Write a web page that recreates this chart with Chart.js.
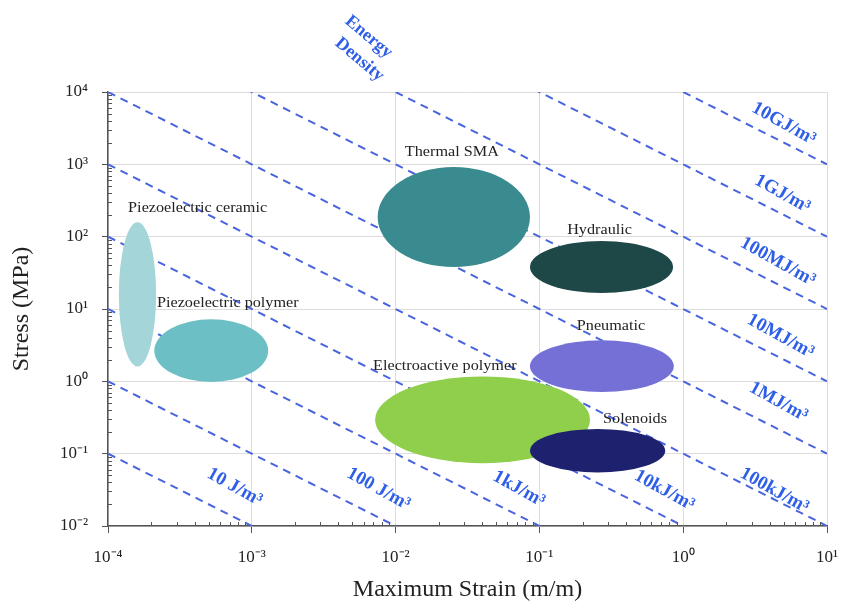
<!DOCTYPE html>
<html>
<head>
<meta charset="utf-8">
<script src="https://cdn.jsdelivr.net/npm/chart.js@4.4.0/dist/chart.umd.min.js"></script>
<style>
  html, body { margin: 0; padding: 0; background: #fff; }
  #wrap { width: 842px; height: 604px; }
</style>
</head>
<body>
<div id="wrap"><canvas id="chart"></canvas></div>
<script>
// actuator families: strain range (m/m) and stress range (MPa)
const actuators = ['Piezoelectric ceramic', 'Piezoelectric polymer', 'Thermal SMA', 'Hydraulic', 'Electroactive polymer', 'Pneumatic', 'Solenoids'];
const strainMin = [1.19e-4, 2.1e-4, 7.5e-3, 0.086, 7.2e-3, 0.086, 0.086];
const strainMax = [2.16e-4, 1.3e-3, 0.086, 0.85, 0.225, 0.86, 0.75];
const stressMin = [1.6, 0.98, 38, 16.6, 0.074, 0.71, 0.055];
const stressMax = [158, 7.2, 918, 87, 1.17, 3.7, 0.22];
const fillColors = ['#a3d5d9', '#6cc0c5', '#3a8b8f', '#1e4747', '#90cf4c', '#7470d6', '#1e226e'];
// where the name of each family is written (left edge, middle)
const labelStrain = [1.38e-4, 2.19e-4, 0.0116, 0.156, 6.97e-3, 0.182, 0.277];
const labelStress = [249, 12.1, 1480, 123, 1.62, 5.8, 0.30];

// energy density lines: stress x strain (MPa * m/m = MJ/m3)
const energyValues = [1e-5, 1e-4, 1e-3, 1e-2, 1e-1, 1, 10, 100, 1e3, 1e4];
const energyLabels = ['10 J/m³', '100 J/m³', '1kJ/m³', '10kJ/m³', '100kJ/m³', '1MJ/m³', '10MJ/m³', '100MJ/m³', '1GJ/m³', '10GJ/m³'];
const energyLabelStrain = [7.6e-4, 7.6e-3, 0.072, 0.74, 4.3, 4.6, 4.75, 4.55, 4.9, 5.0];
const energyLabelStress = [0.0345, 0.0325, 0.0325, 0.031, 0.031, 0.52, 4.2, 45, 390, 3650];

const xTicks = [1e-4, 1e-3, 1e-2, 1e-1, 1, 10];
const yTicks = [1e-2, 1e-1, 1, 10, 100, 1e3, 1e4];

const blueLine = '#4a64dc';
const blueText = '#2f5fe6';

const sup = { '-': '⁻', '0': '⁰', '1': '¹', '2': '²', '3': '³', '4': '⁴' };
function isMajor(v) {
  const lg = Math.log10(v);
  return Math.abs(lg - Math.round(lg)) < 1e-6;
}
function powLabel(v) {
  if (!isMajor(v)) return '';
  const e = String(Math.round(Math.log10(v)));
  return '10' + e.split('').map(c => sup[c]).join('');
}
function isMinor(v) {
  const m = v / Math.pow(10, Math.floor(Math.log10(v) + 1e-9));
  return !isMajor(v) && Math.abs(m - Math.round(m)) < 1e-6;
}

const datasets = energyValues.map(e => ({
  type: 'line',
  data: [{ x: 1e-4, y: e / 1e-4 }, { x: 10, y: e / 10 }],
  borderColor: blueLine,
  borderWidth: 2,
  borderDash: [8, 6],
  pointRadius: 0,
  fill: false
}));

// minor ticks drawn inside the plot
const minorTicks = {
  id: 'minorTicks',
  afterDraw(chart) {
    const { ctx, scales: { x, y }, chartArea } = chart;
    ctx.save();
    ctx.strokeStyle = '#555';
    ctx.lineWidth = 1;
    ctx.beginPath();
    x.ticks.forEach(t => {
      if (!isMinor(t.value)) return;
      const px = Math.round(x.getPixelForValue(t.value)) + 0.5;
      ctx.moveTo(px, chartArea.bottom);
      ctx.lineTo(px, chartArea.bottom - 4);
    });
    y.ticks.forEach(t => {
      if (!isMinor(t.value)) return;
      const py = Math.round(y.getPixelForValue(t.value)) + 0.5;
      ctx.moveTo(chartArea.left, py);
      ctx.lineTo(chartArea.left + 4, py);
    });
    ctx.stroke();
    ctx.restore();
  }
};

// actuator regions, their names and the energy density labels
const regions = {
  id: 'regions',
  afterDatasetsDraw(chart) {
    const { ctx, scales: { x, y } } = chart;
    ctx.save();
    actuators.forEach((name, i) => {
      const x0 = x.getPixelForValue(strainMin[i]);
      const x1 = x.getPixelForValue(strainMax[i]);
      const y0 = y.getPixelForValue(stressMax[i]);
      const y1 = y.getPixelForValue(stressMin[i]);
      ctx.beginPath();
      ctx.ellipse((x0 + x1) / 2, (y0 + y1) / 2, (x1 - x0) / 2, (y1 - y0) / 2, 0, 0, Math.PI * 2);
      ctx.fillStyle = fillColors[i];
      ctx.fill();
    });

    ctx.fillStyle = '#222';
    ctx.font = '15px "Liberation Serif"';
    ctx.textAlign = 'left';
    ctx.textBaseline = 'middle';
    actuators.forEach((name, i) => {
      ctx.save();
      ctx.translate(x.getPixelForValue(labelStrain[i]), y.getPixelForValue(labelStress[i]));
      ctx.scale(1.08, 1);
      ctx.fillText(name, 0, 0);
      ctx.restore();
    });

    const angle = 29 * Math.PI / 180;
    ctx.fillStyle = blueText;
    ctx.font = 'bold 19px "Liberation Serif"';
    ctx.textAlign = 'center';
    energyLabels.forEach((txt, i) => {
      ctx.save();
      ctx.translate(x.getPixelForValue(energyLabelStrain[i]), y.getPixelForValue(energyLabelStress[i]));
      ctx.rotate(angle);
      ctx.fillText(txt, 0, 0);
      ctx.restore();
    });

    ctx.font = 'bold 18px "Liberation Serif"';
    [['Energy', 6.5e-3, 5.77e4], ['Density', 5.6e-3, 2.8e4]].forEach(([txt, sx, sy]) => {
      ctx.save();
      ctx.translate(x.getPixelForValue(sx), y.getPixelForValue(sy));
      ctx.rotate(40 * Math.PI / 180);
      ctx.fillText(txt, 0, 0);
      ctx.restore();
    });
    ctx.restore();
  }
};

const gridColor = c => (c.tick && isMajor(c.tick.value) ? '#dcdcdc' : 'rgba(0,0,0,0)');
const tickColor = c => (c.tick && isMajor(c.tick.value) ? '#555' : 'rgba(0,0,0,0)');

new Chart(document.getElementById('chart'), {
  type: 'line',
  data: { datasets: datasets },
  options: {
    responsive: true,
    maintainAspectRatio: false,
    animation: false,
    layout: { padding: { top: 92, right: 15, left: 0, bottom: 0 } },
    plugins: { legend: { display: false }, tooltip: { enabled: false } },
    scales: {
      x: {
        type: 'logarithmic',
        min: xTicks[0],
        max: xTicks[xTicks.length - 1],
        afterFit: s => { s.height = 78; s.paddingLeft = 0; s.paddingRight = 0; },
        border: { color: '#555', width: 1.5 },
        grid: { color: gridColor, tickColor: tickColor, tickLength: 7, lineWidth: 1 },
        ticks: {
          autoSkip: false, maxRotation: 0, padding: 14,
          color: '#222', font: { family: 'Liberation Serif', size: 17 },
          callback: v => powLabel(v)
        },
        title: {
          display: true, text: 'Maximum Strain (m/m)', color: '#222',
          font: { family: 'Liberation Serif', size: 24 }, padding: { top: 0, bottom: 0 }
        }
      },
      y: {
        type: 'logarithmic',
        min: yTicks[0],
        max: yTicks[yTicks.length - 1],
        afterFit: s => { s.width = 108; s.paddingTop = 0; s.paddingBottom = 0; },
        border: { color: '#555', width: 1.5 },
        grid: { color: gridColor, tickColor: tickColor, tickLength: 6, lineWidth: 1 },
        ticks: {
          autoSkip: false, padding: 14,
          color: '#222', font: { family: 'Liberation Serif', size: 17 },
          callback: v => powLabel(v)
        },
        title: {
          display: true, text: 'Stress (MPa)', color: '#222',
          font: { family: 'Liberation Serif', size: 24 }, padding: { top: 7, bottom: 0 }
        }
      }
    }
  },
  plugins: [minorTicks, regions]
});
</script>
</body>
</html>
